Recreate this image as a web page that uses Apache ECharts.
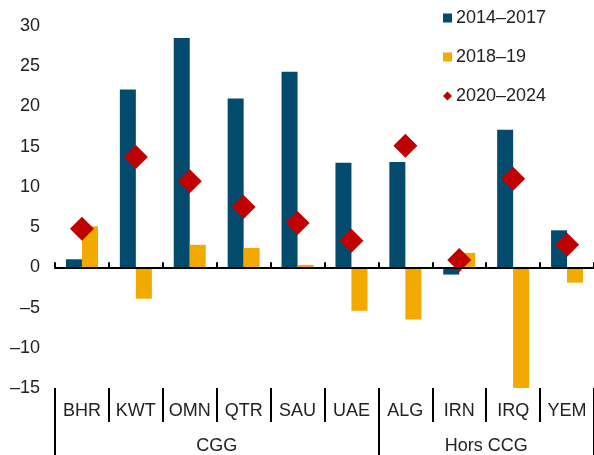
<!DOCTYPE html>
<html>
<head>
<meta charset="utf-8">
<script src="https://cdn.jsdelivr.net/npm/echarts@6/dist/echarts.min.js"></script>
<style>
  html, body { margin: 0; padding: 0; background: #fff; }
  #main { width: 594px; height: 455px; }
</style>
</head>
<body>
<div id="main"></div>
<script>
// pays
var categories = ['BHR', 'KWT', 'OMN', 'QTR', 'SAU', 'UAE', 'ALG', 'IRN', 'IRQ', 'YEM'];
// groupes (CGG = 6 premiers, Hors CCG = 4 derniers)
var groups = ['CGG', 'Hors CCG'];
var groupBounds = [0, 6, 10];
var groupCenters = [3, 8];

var v2014_2017 = [1.0, 22.1, 28.5, 21.0, 24.3, 13.0, 13.1, -0.9, 17.1, 4.6];
var v2018_19   = [5.1, -3.9, 2.8, 2.4, 0.3, -5.4, -6.5, 1.8, -15.0, -1.9];
var v2020_2024 = [4.8, 13.7, 10.7, 7.5, 5.5, 3.3, 15.1, 0.9, 11.0, 2.8];

var yTicks = [-15, -10, -5, 0, 5, 10, 15, 20, 25, 30];

var FONT = 'Liberation Sans';
var TXT = '#222';

var chart = echarts.init(document.getElementById('main'));

chart.setOption({
  animation: false,
  textStyle: { fontFamily: FONT },
  grid: { left: 55, right: 0, top: 26, bottom: 67, containLabel: false },
  legend: {
    orient: 'vertical',
    left: 438,
    top: 4,
    itemWidth: 9,
    itemHeight: 9,
    itemGap: 21,
    textStyle: { fontSize: 18, color: TXT, fontFamily: FONT, padding: [0, 0, 0, -1] },
    data: [
      { name: '2014–2017', icon: 'rect' },
      { name: '2018–19', icon: 'rect' },
      { name: '2020–2024', icon: 'diamond' }
    ]
  },
  xAxis: [
    {
      // axe sur le zéro
      type: 'category',
      data: categories,
      axisLine: { onZero: true, lineStyle: { color: '#000', width: 2 } },
      axisTick: { show: true, inside: true, interval: 0, length: 5, lineStyle: { color: '#000', width: 2 } },
      axisLabel: { show: true, interval: 0, formatter: function () { return ''; } },
      splitLine: { show: false },
      z: 10
    },
    {
      // libellés des pays en bas
      type: 'category',
      data: categories,
      position: 'bottom',
      axisLine: { show: false, onZero: false },
      axisTick: { show: true, length: 34, interval: 0, lineStyle: { color: '#000', width: 2 } },
      axisLabel: { show: true, interval: 0, margin: 14, fontSize: 18, color: TXT, fontFamily: FONT }
    },
    {
      // groupes
      type: 'value',
      min: 0,
      max: 10,
      position: 'bottom',
      axisLine: { show: false, onZero: false },
      splitLine: { show: false },
      axisTick: { show: true, length: 67, customValues: groupBounds, lineStyle: { color: '#000', width: 2 } },
      axisLabel: {
        show: true,
        customValues: groupCenters,
        margin: 49,
        fontSize: 18,
        color: TXT,
        fontFamily: FONT,
        formatter: function (v) { return groups[groupCenters.indexOf(v)]; }
      }
    }
  ],
  yAxis: {
    type: 'value',
    min: -15,
    max: 30,
    interval: 5,
    axisLine: { show: false },
    axisTick: { show: false },
    splitLine: { show: false },
    axisLabel: {
      margin: 15,
      fontSize: 18,
      color: TXT,
      fontFamily: FONT,
      customValues: yTicks,
      formatter: function (v) { return v < 0 ? '–' + Math.abs(v) : String(v); }
    }
  },
  series: [
    {
      name: '2014–2017',
      type: 'bar',
      xAxisIndex: 0,
      data: v2014_2017,
      barWidth: 16,
      barGap: '0%',
      itemStyle: { color: '#034b6d' }
    },
    {
      name: '2018–19',
      type: 'bar',
      xAxisIndex: 0,
      data: v2018_19,
      barWidth: 16,
      barGap: '0%',
      itemStyle: { color: '#f2a900' }
    },
    {
      name: '2020–2024',
      type: 'scatter',
      xAxisIndex: 0,
      data: v2020_2024,
      symbol: 'diamond',
      symbolSize: [24, 24],
      itemStyle: { color: '#c00000', opacity: 1 },
      z: 5
    }
  ]
});
</script>
</body>
</html>
